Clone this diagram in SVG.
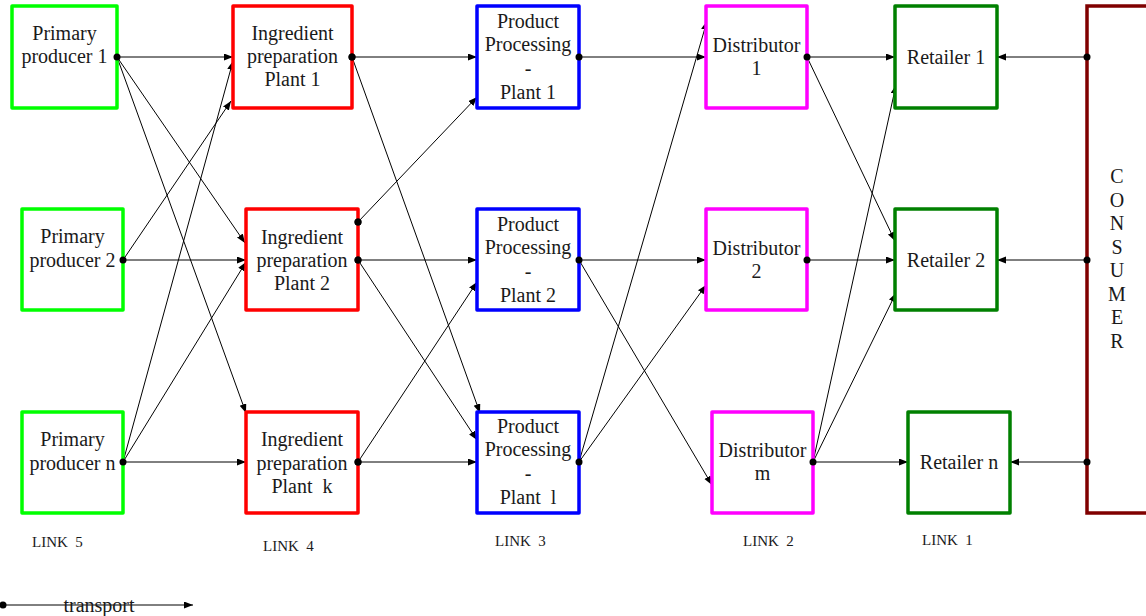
<svg xmlns="http://www.w3.org/2000/svg" width="1146" height="616" viewBox="0 0 1146 616">
  <style>
    .box { fill: #ffffff; stroke-width: 3.5; stroke-linejoin: round; }
    .prod { stroke: #00ff00; }
    .ingr { stroke: #ff0000; }
    .proc { stroke: #0000ff; }
    .dist { stroke: #ff00ff; }
    .ret { stroke: #008000; }
    .cons { stroke: #800000; fill: #ffffff; stroke-width: 3.5; }
    .lbl { font-family: "Liberation Serif", "Times New Roman", serif; font-size: 20px; fill: #1a1a1a; text-anchor: middle; }
    .link { font-family: "Liberation Serif", "Times New Roman", serif; font-size: 15px; fill: #1a1a1a; white-space: pre; }
    .edge { stroke: #000000; stroke-width: 1; fill: none; marker-end: url(#arrow); }
    .dot { fill: #000000; }
  </style>
  <defs>
    <marker id="arrow" markerUnits="userSpaceOnUse" markerWidth="10" markerHeight="8" refX="9" refY="3.5" orient="auto">
      <path d="M0,0 L9,3.5 L0,7 z" fill="#000000"/>
    </marker>
  </defs>

  <rect width="1146" height="616" fill="#ffffff"/>

  <!-- connectors -->
  <g id="connectors">
    <!-- primary producers to ingredient plants -->
    <line class="edge" x1="117" y1="57" x2="233" y2="57"/>
    <line class="edge" x1="117" y1="57" x2="245" y2="243"/>
    <line class="edge" x1="117" y1="57" x2="246" y2="413"/>
    <line class="edge" x1="123" y1="260" x2="231" y2="101"/>
    <line class="edge" x1="123" y1="260" x2="246" y2="260"/>
    <line class="edge" x1="123" y1="462" x2="233" y2="61"/>
    <line class="edge" x1="123" y1="462" x2="246" y2="262"/>
    <line class="edge" x1="123" y1="462" x2="246" y2="462"/>
    <!-- ingredient plants to processing plants -->
    <line class="edge" x1="352" y1="57" x2="477" y2="57"/>
    <line class="edge" x1="352" y1="57" x2="480" y2="413"/>
    <line class="edge" x1="358" y1="222" x2="477" y2="97"/>
    <line class="edge" x1="358" y1="260" x2="477" y2="260"/>
    <line class="edge" x1="358" y1="260" x2="477" y2="440"/>
    <line class="edge" x1="358" y1="462" x2="477" y2="282"/>
    <line class="edge" x1="358" y1="462" x2="477" y2="462"/>
    <!-- processing plants to distributors -->
    <line class="edge" x1="579" y1="57" x2="706" y2="57"/>
    <line class="edge" x1="579" y1="260" x2="706" y2="260"/>
    <line class="edge" x1="579" y1="260" x2="712" y2="485"/>
    <line class="edge" x1="579" y1="462" x2="707" y2="21"/>
    <line class="edge" x1="579" y1="462" x2="706" y2="285"/>
    <!-- distributors to retailers -->
    <line class="edge" x1="807" y1="57" x2="895" y2="57"/>
    <line class="edge" x1="807" y1="57" x2="895" y2="241"/>
    <line class="edge" x1="807" y1="260" x2="895" y2="260"/>
    <line class="edge" x1="813" y1="462" x2="896" y2="85"/>
    <line class="edge" x1="813" y1="462" x2="896" y2="293"/>
    <line class="edge" x1="813" y1="462" x2="908" y2="462"/>
    <!-- consumer to retailers -->
    <line class="edge" x1="1087" y1="57" x2="997" y2="57"/>
    <line class="edge" x1="1087" y1="260" x2="997" y2="260"/>
    <line class="edge" x1="1087" y1="462" x2="1010" y2="462"/>
  </g>

  <!-- primary producers -->
  <g id="producer-1">
    <rect class="box prod" x="12" y="6" width="105" height="102"/>
    <text class="lbl" x="64.5" y="40">Primary</text>
    <text class="lbl" x="64.5" y="63">producer 1</text>
  </g>
  <g id="producer-2">
    <rect class="box prod" x="22" y="209" width="101" height="101"/>
    <text class="lbl" x="72.5" y="243">Primary</text>
    <text class="lbl" x="72.5" y="267">producer 2</text>
  </g>
  <g id="producer-n">
    <rect class="box prod" x="22" y="412" width="101" height="101"/>
    <text class="lbl" x="72.5" y="446">Primary</text>
    <text class="lbl" x="72.5" y="470">producer n</text>
  </g>

  <!-- ingredient preparation plants -->
  <g id="ingredient-1">
    <rect class="box ingr" x="233" y="6" width="119" height="102"/>
    <text class="lbl" x="292.5" y="40">Ingredient</text>
    <text class="lbl" x="292.5" y="63">preparation</text>
    <text class="lbl" x="292.5" y="86">Plant 1</text>
  </g>
  <g id="ingredient-2">
    <rect class="box ingr" x="246" y="209" width="112" height="101"/>
    <text class="lbl" x="302" y="244">Ingredient</text>
    <text class="lbl" x="302" y="267">preparation</text>
    <text class="lbl" x="302" y="290">Plant 2</text>
  </g>
  <g id="ingredient-k">
    <rect class="box ingr" x="246" y="412" width="112" height="101"/>
    <text class="lbl" x="302" y="446">Ingredient</text>
    <text class="lbl" x="302" y="470">preparation</text>
    <text class="lbl" x="302" y="493" xml:space="preserve">Plant  k</text>
  </g>
  <g id="ingredient-dots">
    <circle class="dot" cx="352" cy="57" r="3.5"/>
    <circle class="dot" cx="358" cy="222" r="3.5"/>
    <circle class="dot" cx="358" cy="260" r="3.5"/>
    <circle class="dot" cx="358" cy="462" r="3.5"/>
  </g>

  <!-- product processing plants -->
  <g id="processing-1">
    <rect class="box proc" x="477" y="6" width="102" height="102"/>
    <text class="lbl" x="528" y="28">Product</text>
    <text class="lbl" x="528" y="51">Processing</text>
    <text class="lbl" x="528" y="75">-</text>
    <text class="lbl" x="528" y="99">Plant 1</text>
  </g>
  <g id="processing-2">
    <rect class="box proc" x="477" y="209" width="102" height="101"/>
    <text class="lbl" x="528" y="231">Product</text>
    <text class="lbl" x="528" y="254">Processing</text>
    <text class="lbl" x="528" y="278">-</text>
    <text class="lbl" x="528" y="302">Plant 2</text>
  </g>
  <g id="processing-l">
    <rect class="box proc" x="477" y="412" width="102" height="101"/>
    <text class="lbl" x="528" y="433">Product</text>
    <text class="lbl" x="528" y="456">Processing</text>
    <text class="lbl" x="528" y="480">-</text>
    <text class="lbl" x="528" y="504" xml:space="preserve">Plant  l</text>
  </g>

  <!-- distributors -->
  <g id="distributor-1">
    <rect class="box dist" x="706" y="6" width="101" height="102"/>
    <text class="lbl" x="756.5" y="52">Distributor</text>
    <text class="lbl" x="756.5" y="75">1</text>
  </g>
  <g id="distributor-2">
    <rect class="box dist" x="706" y="209" width="101" height="101"/>
    <text class="lbl" x="756.5" y="255">Distributor</text>
    <text class="lbl" x="756.5" y="278">2</text>
  </g>
  <g id="distributor-m">
    <rect class="box dist" x="712" y="412" width="101" height="101"/>
    <text class="lbl" x="762.5" y="457">Distributor</text>
    <text class="lbl" x="762.5" y="480">m</text>
  </g>

  <!-- retailers -->
  <g id="retailer-1">
    <rect class="box ret" x="895" y="6" width="102" height="102"/>
    <text class="lbl" x="946" y="64">Retailer 1</text>
  </g>
  <g id="retailer-2">
    <rect class="box ret" x="895" y="209" width="102" height="101"/>
    <text class="lbl" x="946" y="267">Retailer 2</text>
  </g>
  <g id="retailer-n">
    <rect class="box ret" x="908" y="412" width="102" height="101"/>
    <text class="lbl" x="959" y="469">Retailer n</text>
  </g>

  <!-- consumer -->
  <g id="consumer">
    <rect class="cons" x="1087" y="6" width="100" height="507"/>
    <text class="lbl" x="1117" y="183">C</text>
    <text class="lbl" x="1117" y="206.5">O</text>
    <text class="lbl" x="1117" y="230">N</text>
    <text class="lbl" x="1117" y="253.5">S</text>
    <text class="lbl" x="1117" y="277">U</text>
    <text class="lbl" x="1117" y="300.5">M</text>
    <text class="lbl" x="1117" y="324">E</text>
    <text class="lbl" x="1117" y="347.5">R</text>
  </g>

  <!-- connector start points -->
  <g id="dots">
    <circle class="dot" cx="117" cy="57" r="3.5"/>
    <circle class="dot" cx="123" cy="260" r="3.5"/>
    <circle class="dot" cx="123" cy="462" r="3.5"/>
    <circle class="dot" cx="352" cy="57" r="3.5"/>
    <circle class="dot" cx="358" cy="222" r="3.5"/>
    <circle class="dot" cx="358" cy="260" r="3.5"/>
    <circle class="dot" cx="358" cy="462" r="3.5"/>
    <circle class="dot" cx="579" cy="57" r="3.5"/>
    <circle class="dot" cx="579" cy="260" r="3.5"/>
    <circle class="dot" cx="579" cy="462" r="3.5"/>
    <circle class="dot" cx="807" cy="57" r="3.5"/>
    <circle class="dot" cx="807" cy="260" r="3.5"/>
    <circle class="dot" cx="813" cy="462" r="3.5"/>
    <circle class="dot" cx="1087" cy="57" r="3.5"/>
    <circle class="dot" cx="1087" cy="260" r="3.5"/>
    <circle class="dot" cx="1087" cy="462" r="3.5"/>
  </g>

  <!-- link labels -->
  <g id="link-labels">
    <text class="link" x="32" y="547" xml:space="preserve">LINK  5</text>
    <text class="link" x="263" y="551" xml:space="preserve">LINK  4</text>
    <text class="link" x="495" y="546" xml:space="preserve">LINK  3</text>
    <text class="link" x="743" y="546" xml:space="preserve">LINK  2</text>
    <text class="link" x="922" y="545" xml:space="preserve">LINK  1</text>
  </g>

  <!-- legend -->
  <g id="legend">
    <line class="edge" x1="3" y1="605" x2="193" y2="605"/>
    <circle class="dot" cx="3" cy="605" r="3.5"/>
    <text class="lbl" x="99" y="612">transport</text>
  </g>
</svg>
